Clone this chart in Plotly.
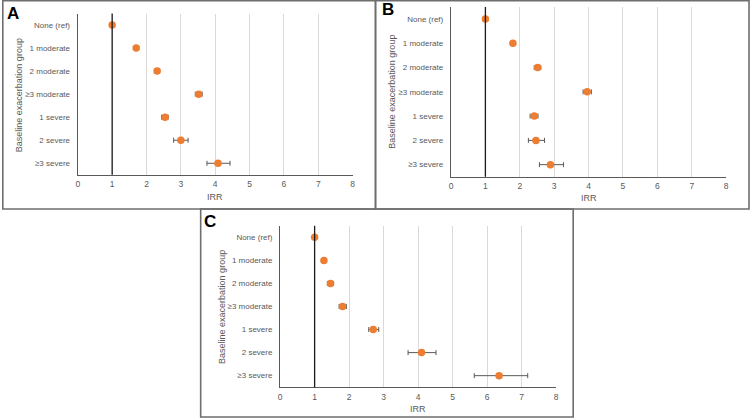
import plotly.graph_objects as go

W, H = 753, 418

categories = ["None (ref)", "1 moderate", "2 moderate", "≥3 moderate",
              "1 severe", "2 severe", "≥3 severe"]

a_irr = [1.0, 1.70, 2.31, 3.52, 2.54, 3.00, 4.08]
a_lo = [1.0, 1.66, 2.23, 3.42, 2.44, 2.79, 3.76]
a_hi = [1.0, 1.74, 2.38, 3.62, 2.63, 3.21, 4.43]

b_irr = [1.0, 1.80, 2.52, 3.96, 2.42, 2.47, 2.89]
b_lo = [1.0, 1.76, 2.42, 3.84, 2.30, 2.25, 2.57]
b_hi = [1.0, 1.84, 2.61, 4.08, 2.53, 2.72, 3.27]

c_irr = [1.0, 1.27, 1.46, 1.81, 2.70, 4.10, 6.35]
c_lo = [1.0, 1.22, 1.37, 1.71, 2.57, 3.71, 5.63]
c_hi = [1.0, 1.32, 1.55, 1.92, 2.86, 4.52, 7.18]

x_ticks = [0, 1, 2, 3, 4, 5, 6, 7, 8]
panel_letters = ["A", "B", "C"]
x_title = "IRR"
y_title = "Baseline exacerbation group"

FONT = "Liberation Sans, Arial, sans-serif"
GRAY = "#595959"
ORANGE = "#ED7D31"


def px(x):
    return x / W


def py(y):
    return 1 - y / H


# plot areas in pixel coordinates (left, top, right, bottom)
areas = [
    (76.3, 13.5, 353.0, 174.8),
    (452.0, 6.9, 729.0, 176.8),
    (280.0, 225.8, 557.7, 387.2),
]
boxes = [
    (0.8, 0.8, 376, 209),
    (376, 0.8, 752, 209),
    (200, 209, 575, 417),
]
letter_pos = [(11.5, 14), (388.5, 9.5), (209, 221.5)]
ytitle_pos = [(17.3, 95), (393, 91.3), (220.7, 306.7)]
xtitle_off = [22, 21.3, 21.3]

series = [(a_irr, a_lo, a_hi), (b_irr, b_lo, b_hi), (c_irr, c_lo, c_hi)]

fig = go.Figure()
shapes = []
annotations = []

for i, ((irr, lo, hi), (l, t, r, b)) in enumerate(zip(series, areas)):
    n = "" if i == 0 else str(i + 1)
    xa, ya = "x" + n, "y" + n
    fig.add_trace(go.Scatter(
        x=irr, y=categories, xaxis=xa, yaxis=ya, mode="markers",
        marker=dict(color=ORANGE, size=7.5),
        error_x=dict(type="data", symmetric=False,
                     array=[h - v for h, v in zip(hi, irr)],
                     arrayminus=[v - lo_ for v, lo_ in zip(irr, lo)],
                     color=GRAY, thickness=1, width=2.5),
        showlegend=False,
    ))
    fig.update_layout({
        "xaxis" + n: dict(
            domain=[px(l), px(r)], anchor=ya, range=[0, 8],
            tickvals=x_ticks, ticktext=[str(v) for v in x_ticks],
            showgrid=True, gridcolor="#d9d9d9", gridwidth=1.3,
            showline=True, linecolor=GRAY, linewidth=1.3,
            zeroline=False, ticks="outside", ticklen=1,
            tickcolor="rgba(0,0,0,0)",
            tickfont=dict(family=FONT, size=8.5, color=GRAY),
            fixedrange=True,
        ),
        "yaxis" + n: dict(
            domain=[py(b), py(t)], anchor=xa, type="category",
            categoryorder="array", categoryarray=categories,
            range=[6.5, -0.5], showgrid=False,
            showline=True, linecolor=GRAY, linewidth=1.3,
            ticks="outside", ticklen=5, tickcolor="rgba(0,0,0,0)",
            tickfont=dict(family=FONT, size=8, color=GRAY),
            fixedrange=True,
        ),
    })
    # reference line at IRR = 1
    shapes.append(dict(type="line", xref=xa, yref=ya + " domain",
                       x0=1, x1=1, y0=0, y1=1,
                       line=dict(color="#1a1a1a", width=1.3)))
    # panel border
    bx0, by0, bx1, by1 = boxes[i]
    shapes.append(dict(type="rect", xref="paper", yref="paper",
                       x0=px(bx0), x1=px(bx1), y0=py(by1), y1=py(by0),
                       line=dict(color="#6e6e6e", width=1.6),
                       layer="above"))
    # panel letter
    lx, ly = letter_pos[i]
    annotations.append(dict(text="<b>%s</b>" % panel_letters[i],
                            xref="paper", yref="paper",
                            x=px(lx), y=py(ly), showarrow=False,
                            font=dict(family=FONT, size=17, color="black"),
                            xanchor="center", yanchor="middle"))
    # axis titles
    annotations.append(dict(text=x_title, xref="paper", yref="paper",
                            x=px((l + r) / 2), y=py(b + xtitle_off[i]),
                            showarrow=False,
                            font=dict(family=FONT, size=9, color=GRAY),
                            xanchor="center", yanchor="middle"))
    tx, ty = ytitle_pos[i]
    annotations.append(dict(text=y_title, xref="paper", yref="paper",
                            x=px(tx), y=py(ty), showarrow=False,
                            textangle=-90,
                            font=dict(family=FONT, size=9, color=GRAY),
                            xanchor="center", yanchor="middle"))

fig.update_layout(
    width=W, height=H,
    margin=dict(l=0, r=0, t=0, b=0),
    paper_bgcolor="white", plot_bgcolor="white",
    shapes=shapes, annotations=annotations,
    font=dict(family=FONT),
)

fig.write_html(
    "out.html",
    config={"displayModeBar": False},
    post_script="document.body.style.margin='0';"
                "document.body.style.padding='0';"
                "document.body.style.overflow='hidden';",
)
